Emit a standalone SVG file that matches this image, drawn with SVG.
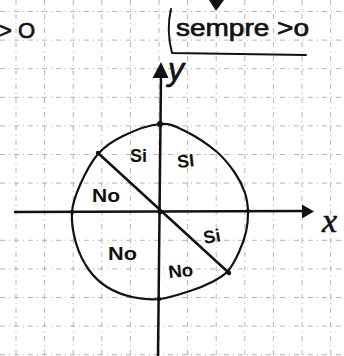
<svg xmlns="http://www.w3.org/2000/svg" width="344" height="356" viewBox="0 0 344 356">
<style>
.grid{stroke:#b4b4b4;stroke-width:1;stroke-dasharray:5 4 1 4;fill:none}
.ink{stroke:#111;fill:none;stroke-linecap:round;stroke-linejoin:round}
.lbl{font-family:"Liberation Sans",Arial,sans-serif;font-weight:bold;fill:#111;font-size:18px}
.hand{font-family:"Liberation Sans",Arial,sans-serif;fill:#111;stroke:#111;stroke-width:0.7}
</style>
<rect width="344" height="356" fill="#fff"/>
<g id="grid" class="grid">
<path d="M16,0V356M44.6,0V356M73.2,0V356M101.8,0V356M130.4,0V356M159,0V356M187.6,0V356M216.2,0V356M244.8,0V356M273.4,0V356M302,0V356M330.6,0V356"/>
<path d="M0,11.5H344M0,40.1H344M0,68.7H344M0,97.3H344M0,125.9H344M0,154.5H344M0,183.1H344M0,240.3H344M0,268.9H344M0,297.5H344M0,326.1H344M0,354.7H344"/>
</g>
<g id="annotations">
<text class="hand" x="-1 18" y="38" font-size="22">&gt;O</text>
<polygon points="209,0 224,0 216,11" fill="#111"/>
<path class="ink" d="M171,9 Q166,30 172,53 L306,55" stroke-width="2"/>
<text class="hand" x="176" y="36" font-size="24" textLength="133" lengthAdjust="spacingAndGlyphs">sempre &gt;o</text>
</g>
<g id="axes">
<path class="ink" d="M15,212 L304,211" stroke-width="2.5"/>
<polygon points="302,204.5 314,211.5 302,218.5" fill="#111"/>
<path class="ink" d="M158,356 L161,76" stroke-width="2.5"/>
<polygon points="152.5,78 161,62 168.5,78" fill="#111"/>
<text class="hand" x="168" y="80" font-size="32" font-style="italic">y</text>
<text x="322" y="232" font-family="'Liberation Serif',serif" font-style="italic" font-size="34" fill="#111" stroke="#111" stroke-width="0.6">x</text>
</g>
<g id="circle">
<path class="ink" stroke-width="2.2" d="M160,124 C170.3,123.2 175.5,126.3 185,131 C194.5,135.7 208.7,145 217,152 C225.3,159 230.3,166.2 235,173 C239.7,179.8 242.8,186.5 245,193 C247.2,199.5 247.8,205.5 248,212 C248.2,218.5 247.5,225.3 246,232 C244.5,238.7 242,245.5 239,252 C236,258.5 232.5,266 228,271 C223.5,276 218.3,278.7 212,282 C205.7,285.3 198.7,288.2 190,291 C181.3,293.8 169.7,298 160,299 C150.3,300 140.8,299 132,297 C123.2,295 114.2,291.5 107,287 C99.8,282.5 94.2,277.3 89,270 C83.8,262.7 78.8,252.7 76,243 C73.2,233.3 71.3,221.7 72,212 C72.7,202.3 75.7,194.7 80,185 C84.3,175.3 90.8,162.2 98,154 C105.2,145.8 112.7,141 123,136 C133.3,131 149.7,124.8 160,124 Z"/>
</g>
<g id="diagonal">
<path class="ink" d="M98,153 L229,273" stroke-width="2.5"/>
<g fill="#111">
<circle cx="160" cy="124" r="3"/>
<circle cx="98" cy="153" r="2.2"/>
<circle cx="229" cy="273" r="2.2"/>
<circle cx="160" cy="212" r="2.5"/>
<circle cx="248" cy="211" r="2"/>
<circle cx="72" cy="212" r="2"/>
<circle cx="159" cy="299" r="2.2"/>
</g>
</g>
<g id="labels">
<text class="lbl" x="130" y="162">Si</text>
<text class="lbl" x="177" y="167" transform="rotate(-6 187 160)">SI</text>
<text class="lbl" x="92" y="202" textLength="28" lengthAdjust="spacingAndGlyphs">No</text>
<text class="lbl" x="203" y="242" font-size="19" transform="rotate(-10 215 234)">Si</text>
<text class="lbl" x="108" y="260" textLength="29" lengthAdjust="spacingAndGlyphs">No</text>
<text class="lbl" x="168" y="277" textLength="25" lengthAdjust="spacingAndGlyphs" transform="rotate(-6 181 269)">No</text>
</g>
</svg>
